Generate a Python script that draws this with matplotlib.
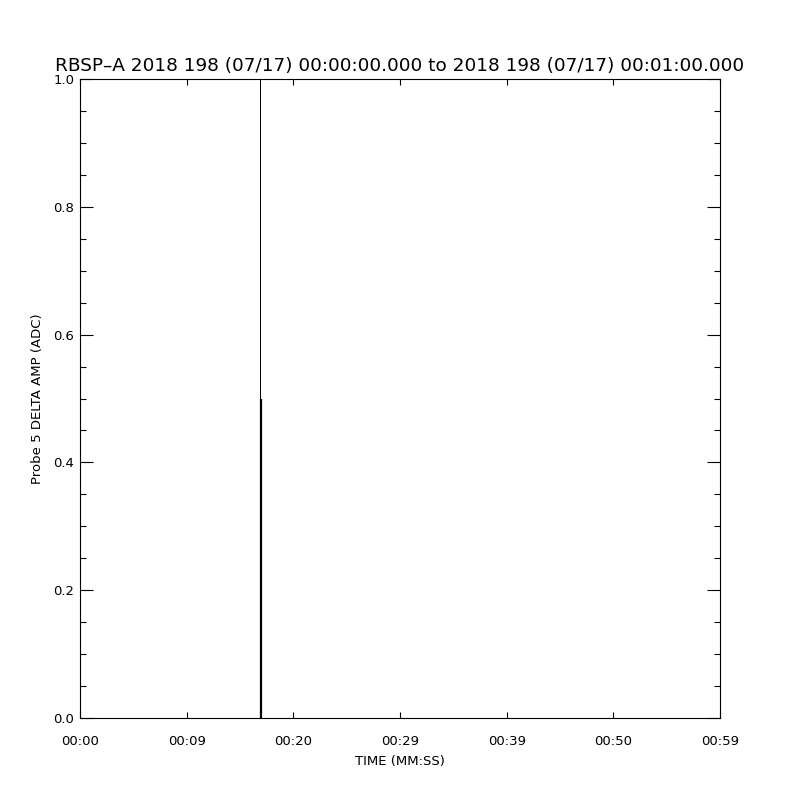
import numpy as np
import matplotlib.pyplot as plt
from matplotlib.ticker import MultipleLocator, FormatStrFormatter

# spike in probe 5 delta amplitude (seconds after 00:00:00, ADC)
spike_time = [16.88, 16.93]
spike_amp = [1.0, 0.5]
spike_width = [0.75, 1.6]

xticks = [0, 10, 20, 30, 40, 50, 60]
xticklabels = ['00:00', '00:09', '00:20', '00:29', '00:39', '00:50', '00:59']

title = 'RBSP\u2013A 2018 198 (07/17) 00:00:00.000 to 2018 198 (07/17) 00:01:00.000'

fig = plt.figure(figsize=(8, 8), dpi=100)
ax = fig.add_axes([0.1, 0.1025, 0.8, 0.79875])

for t, a, w in zip(spike_time, spike_amp, spike_width):
    ax.vlines(t, 0, a, color='black', lw=w)

ax.set_xlim(0, 60)
ax.set_ylim(0, 1)
ax.set_xticks(xticks)
ax.set_xticklabels(xticklabels)
ax.yaxis.set_major_locator(MultipleLocator(0.2))
ax.yaxis.set_minor_locator(MultipleLocator(0.05))
ax.yaxis.set_major_formatter(FormatStrFormatter('%.1f'))

ax.tick_params(axis='x', which='major', direction='in', length=4.3, width=0.8,
               top=True, labelsize=9.5, pad=12)
ax.tick_params(axis='y', which='major', direction='in', length=9.4, width=0.8,
               right=True, labelsize=9.5, pad=4)
ax.tick_params(axis='y', which='minor', direction='in', length=4.3, width=0.8,
               right=True)
for s in ax.spines.values():
    s.set_linewidth(0.8)

ax.set_xlabel('TIME (MM:SS)', fontsize=9.5, labelpad=5)
ax.set_ylabel('Probe 5 DELTA AMP (ADC)', fontsize=9.5, labelpad=7)
ax.set_title(title, fontsize=13.3, pad=6)

fig.savefig('out.png', dpi=100, facecolor='white')
